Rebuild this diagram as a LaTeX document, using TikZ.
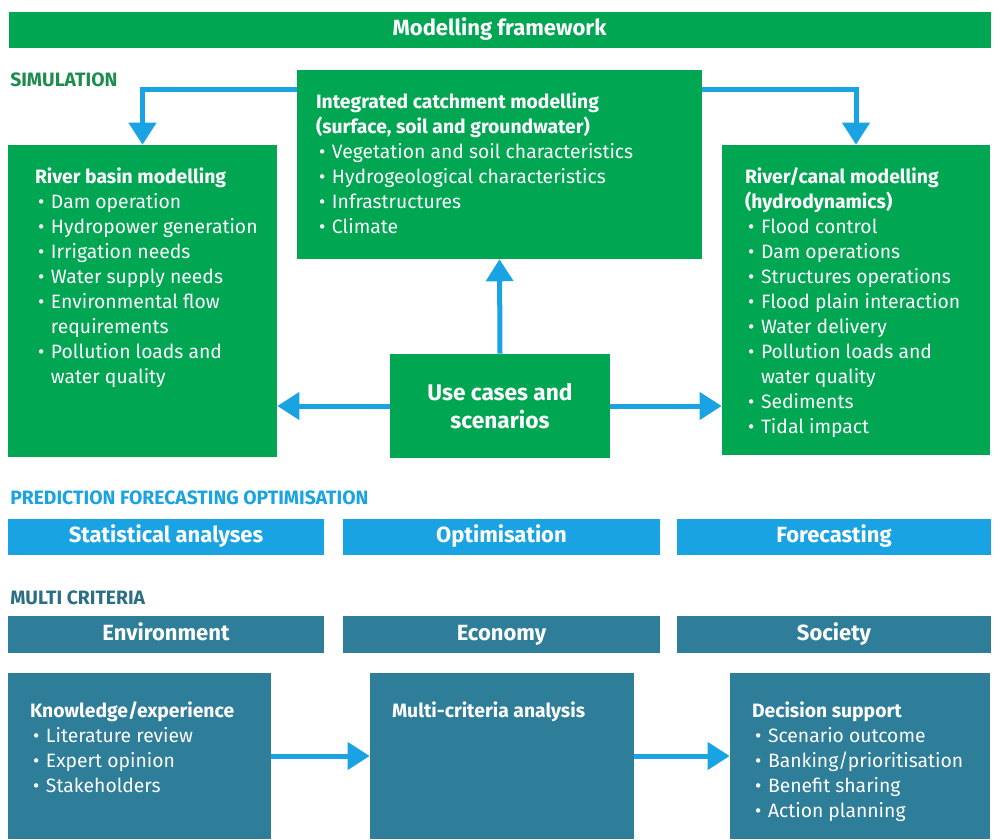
\documentclass[tikz,border=0pt]{standalone}
\usepackage{fontspec}
\setmainfont{Fira Sans}
\usetikzlibrary{calc}
\usetikzlibrary{arrows.meta}

\newdimen\px \px=0.75pt
\definecolor{fwgreen}{HTML}{00A651}
\definecolor{fwdkgreen}{HTML}{1E8C4E}
\definecolor{fwblue}{HTML}{1AA3E3}
\definecolor{fwteal}{HTML}{2E7D99}
\definecolor{fwdkteal}{HTML}{2C6E86}
\newcommand{\itm}{\hspace*{3\px}\makebox[13\px][l]{\textbullet}}
\newcommand{\cnt}{\hspace*{16\px}}

\begin{document}
\begin{tikzpicture}[x=1\px, y=-1\px,
    box/.style={rectangle, inner sep=0pt, text=white},
    bar/.style={box, minimum height=36\px, text height=12pt, text depth=3.5pt,
      font=\bfseries\fontsize{16.5}{19}\selectfont},
    txt/.style={inner sep=0pt, text=white, align=left, anchor=north west,
      font=\fontsize{14.5}{18.75}\selectfont},
    lbl/.style={inner sep=0pt, anchor=west, font=\bfseries\fontsize{14.5}{16}\selectfont},
    flow/.style={draw=fwblue, line width=3.75pt, -{Triangle[width=20pt, length=16.5pt]}}]

  \useasboundingbox (0,0) rectangle (996,839);

  % Header and section labels
  \node[bar, fill=fwgreen, minimum width=982\px] (frame) at (499.5,30) {Modelling framework};
  \node[lbl, text=fwdkgreen] (simlbl) at (10,80) {SIMULATION};
  \node[lbl, text=fwblue] (predlbl) at (10,498) {PREDICTION FORECASTING OPTIMISATION};
  \node[lbl, text=fwdkteal] (multlbl) at (10,598) {MULTI CRITERIA};

  % Simulation boxes
  \node[box, fill=fwgreen, minimum width=405\px, minimum height=189\px] (catch) at (499.5,164.5) {};
  \node[box, fill=fwgreen, minimum width=269\px, minimum height=312\px] (basin) at (142.5,301) {};
  \node[box, fill=fwgreen, minimum width=268\px, minimum height=310\px] (canal) at (856,300) {};
  \node[box, fill=fwgreen, minimum width=220\px, minimum height=104\px,
    font=\bfseries\fontsize{17}{20.5}\selectfont, align=center] (cases) at (500,406)
    {Use cases and\\scenarios};

  \node[txt] (catchtxt) at ($(catch.north west)+(19,23)$)
    {\textbf{Integrated catchment modelling}\\
     \textbf{(surface, soil and groundwater)}\\
     \itm Vegetation and soil characteristics\\
     \itm Hydrogeological characteristics\\
     \itm Infrastructures\\
     \itm Climate};
  \node[txt] (basintxt) at ($(basin.north west)+(27,23)$)
    {\textbf{River basin modelling}\\
     \itm Dam operation\\
     \itm Hydropower generation\\
     \itm Irrigation needs\\
     \itm Water supply needs\\
     \itm Environmental flow\\
     \cnt requirements\\
     \itm Pollution loads and\\
     \cnt water quality};
  \node[txt] (canaltxt) at ($(canal.north west)+(23,23)$)
    {\textbf{River/canal modelling}\\
     \textbf{(hydrodynamics)}\\
     \itm Flood control\\
     \itm Dam operations\\
     \itm Structures operations\\
     \itm Flood plain interaction\\
     \itm Water delivery\\
     \itm Pollution loads and\\
     \cnt water quality\\
     \itm Sediments\\
     \itm Tidal impact};

  % Arrows between simulation boxes
  \draw[flow] ($(catch.north west)+(0,20)$) -| (basin.north);
  \draw[flow] ($(catch.north east)+(0,20)$) -| (canal.north);
  \draw[flow] (cases.north) -- (catch.south);
  \draw[flow] (cases.west) -- (cases.west -| basin.east);
  \draw[flow] (cases.east) -- (cases.east -| canal.west);

  % Prediction bars
  \node[bar, fill=fwblue, minimum width=316\px] (stat) at (166,537) {Statistical analyses};
  \node[bar, fill=fwblue, minimum width=317\px] (optim) at (501.5,537) {Optimisation};
  \node[bar, fill=fwblue, minimum width=314\px] (fcast) at (834,537) {Forecasting};

  % Multi criteria bars
  \node[bar, fill=fwteal, minimum width=316\px, minimum height=37\px] (envir) at (166,634.5) {Environment};
  \node[bar, fill=fwteal, minimum width=317\px, minimum height=37\px] (econ) at (501.5,634.5) {Economy};
  \node[bar, fill=fwteal, minimum width=314\px, minimum height=37\px] (soc) at (834,634.5) {Society};

  % Decision boxes
  \node[box, fill=fwteal, minimum width=263\px, minimum height=166\px] (know) at (139.5,756) {};
  \node[box, fill=fwteal, minimum width=264\px, minimum height=166\px] (mca) at (502,756) {};
  \node[box, fill=fwteal, minimum width=260\px, minimum height=166\px] (decis) at (860,756) {};

  \node[txt] (knowtxt) at ($(know.north west)+(22,29)$)
    {\textbf{Knowledge/experience}\\
     \itm Literature review\\
     \itm Expert opinion\\
     \itm Stakeholders};
  \node[txt] (mcatxt) at ($(mca.north west)+(22,29)$)
    {\textbf{Multi-criteria analysis}};
  \node[txt] (decistxt) at ($(decis.north west)+(22,29)$)
    {\textbf{Decision support}\\
     \itm Scenario outcome\\
     \itm Banking/prioritisation\\
     \itm Benefit sharing\\
     \itm Action planning};

  \draw[flow] (know.east) -- (mca.west);
  \draw[flow] (mca.east) -- (decis.west);
\end{tikzpicture}
\end{document}
